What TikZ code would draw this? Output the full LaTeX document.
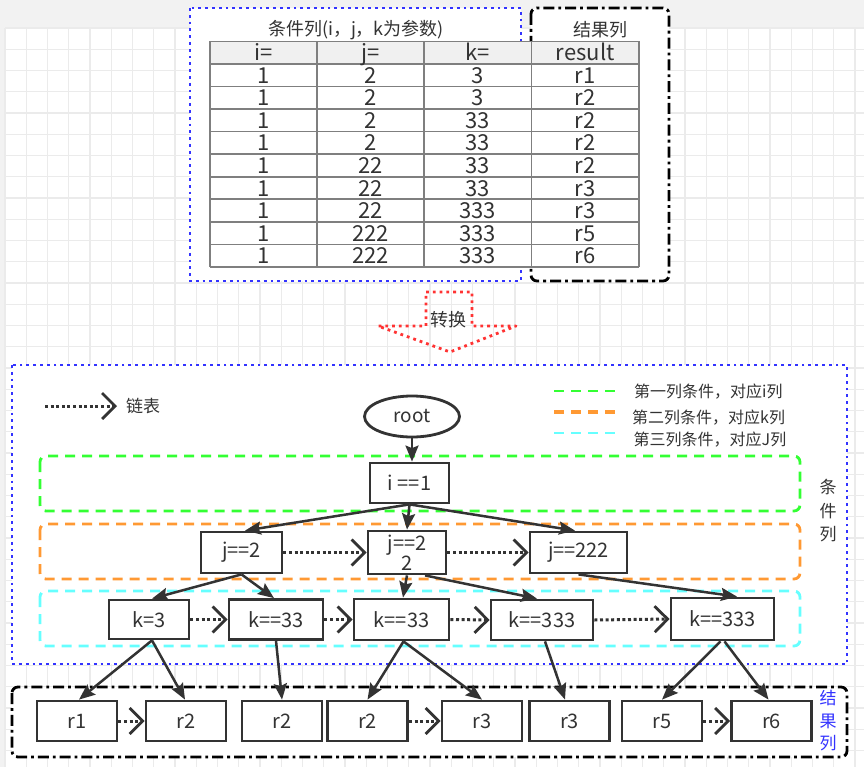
\documentclass[tikz,border=0pt]{standalone}
\usepackage{fontspec}
\setmainfont{Noto Sans CJK SC}
\usetikzlibrary{arrows.meta,shapes.geometric}
\definecolor{ink}{HTML}{333333}
\definecolor{gridc}{HTML}{EBEBEB}
\definecolor{bgc}{HTML}{F2F2F2}
\definecolor{blueb}{HTML}{3333FF}
\definecolor{gr}{HTML}{33FF33}
\definecolor{org}{HTML}{FF9933}
\definecolor{cya}{HTML}{66FFFF}
\definecolor{redd}{HTML}{FF3333}
\definecolor{tline}{HTML}{7F7F7F}
\definecolor{thead}{HTML}{F0F0F0}
\begin{document}
\begin{tikzpicture}[x=1pt,y=-1pt,
  box/.style={draw=ink, line width=2.8pt, fill=white, inner sep=0pt, font=\fontsize{20}{19}\selectfont, text=ink, align=center},
  tree/.style={draw=ink, line width=2.5pt, -{Stealth[length=16pt,width=13pt,inset=2.5pt]}},
  link/.style={draw=ink, line width=3pt, dash pattern=on 3pt off 2.6pt, -{Straight Barb[length=13pt,width=26pt,line width=2.8pt]}},
  grp/.style={line width=2.8pt, dash pattern=on 10pt off 7pt, rounded corners=6pt},
  dotblue/.style={draw=blueb, line width=2.8pt, dash pattern=on 2.8pt off 4pt, fill=white},
  dashdot/.style={draw=black, line width=2.8pt, dash pattern=on 11pt off 4pt on 2.8pt off 4pt, fill=white, rounded corners=6pt},
  cell/.style={font=\fontsize{22}{22}\selectfont, text=ink, inner sep=0pt, text height=16pt, text depth=0pt},
  lbl/.style={font=\fontsize{16}{16}\selectfont, text=ink, inner sep=0pt, anchor=west}
]
\useasboundingbox (0,0) rectangle (864,767);
% background and grid
\fill[bgc] (0,0) rectangle (864,767);
\fill[white] (5,28) rectangle (864,767);
\foreach \i in {0,...,40} {\draw[gridc, line width=1.3pt] ({5+21.25*\i},28) -- ({5+21.25*\i},767);}
\foreach \i in {0,...,34} {\draw[gridc, line width=1.3pt] (5,{28+21.25*\i}) -- (864,{28+21.25*\i});}

% ---------- top: table ----------
\draw[dotblue] (190,8) rectangle (521,281);
\draw[dashdot] (531,8) rectangle (669,281);
\node[font=\fontsize{18}{18}\selectfont, text=ink, inner sep=0pt] (ttl) at (356,30) {条件列(i，j，k为参数)};
\node[font=\fontsize{18}{18}\selectfont, text=ink, inner sep=0pt] (rttl) at (600,30) {结果列};
\fill[thead] (210,41.5) rectangle (639,64);
\fill[white] (210,64) rectangle (639,267);
\foreach \k in {0,...,9} {\draw[tline, line width=1.6pt] (210,{64+22.55*\k}) -- (639,{64+22.55*\k});}
\draw[tline, line width=1.6pt] (210,41.5) -- (639,41.5);
\foreach \xx in {210,317,424,531.5,639} {\draw[tline, line width=1.6pt] (\xx,41.5) -- (\xx,267);}
\node[cell] (h1) at (263.5,53) {i=};
\node[cell] (h2) at (370.5,53) {j=};
\node[cell] (h3) at (477.7,53) {k=};
\node[cell] (h4) at (585.2,53) {result};
\foreach [count=\r] \a/\b/\c/\d in {1/2/3/r1, 1/2/3/r2, 1/2/33/r2, 1/2/33/r2, 1/22/33/r2, 1/22/33/r3, 1/22/333/r3, 1/222/333/r5, 1/222/333/r6} {
  \pgfmathsetmacro{\yy}{64+22.55*(\r-1)+11.3}
  \node[cell] (c\r a) at (263.5,\yy) {\a};
  \node[cell] (c\r b) at (370.5,\yy) {\b};
  \node[cell] (c\r c) at (477.7,\yy) {\c};
  \node[cell] (c\r d) at (585.2,\yy) {\d};
}

% ---------- transform arrow ----------
\draw[redd, line width=2.8pt, dash pattern=on 2.8pt off 4pt, line join=round]
  (426,292) -- (472,292) -- (472,326) -- (516,326) -- (450,352) -- (378,326) -- (426,326) -- cycle;
\node[font=\fontsize{18}{18}\selectfont, text=ink, inner sep=0pt] (zh) at (448,320) {转换};

% ---------- middle ----------
\draw[dotblue] (12,365) rectangle (847,664);
% legend
\coordinate (lgA) at (45,406);
\coordinate (lgB) at (117,406);
\draw[link] (lgA) -- (lgB);
\node[font=\fontsize{17}{17}\selectfont, text=ink, inner sep=0pt, anchor=west] (lgT) at (126,406) {链表};
\draw[gr, line width=2.8pt, dash pattern=on 10pt off 7pt] (554,391) -- (621,391);
\draw[org, line width=3.4pt, dash pattern=on 10pt off 7pt] (554,412) -- (621,412);
\draw[cya, line width=2.8pt, dash pattern=on 10pt off 7pt] (554,433) -- (621,433);
\node[lbl] (lg1) at (634,392) {第一列条件，对应i列};
\node[lbl] (lg2) at (632,418) {第二列条件，对应k列};
\node[lbl] (lg3) at (633.5,440) {第三列条件，对应J列};
% group boxes
\draw[grp, draw=gr] (40,456) rectangle (800,511);
\draw[grp, draw=org] (40,524) rectangle (800,579);
\draw[grp, draw=cya] (40,591) rectangle (800,646);
\node[font=\fontsize{17}{23.5}\selectfont, text=ink, inner sep=0pt, align=center] (tjl) at (828,511) {条\\件\\列};
% nodes
\node[draw=ink, line width=2.8pt, fill=white, ellipse, minimum width=95pt, minimum height=41pt, inner sep=0pt, font=\fontsize{19}{19}\selectfont, text=ink] (root) at (412,416.5) {root};
\node[box, minimum width=79pt, minimum height=40pt] (i1) at (409.5,483) {i ==1};
\node[box, minimum width=81pt, minimum height=41pt] (j2) at (241.5,552.5) {j==2};
\node[box, minimum width=78pt, minimum height=43pt] (j22) at (407,552.5) {j==2\\2};
\node[box, minimum width=97pt, minimum height=41pt] (j222) at (578.5,552.5) {j==222};
\node[box, minimum width=80pt, minimum height=39pt] (k3) at (149,619.5) {k=3};
\node[box, minimum width=94pt, minimum height=40pt] (k33a) at (276,619.5) {k==33};
\node[box, minimum width=95pt, minimum height=41pt] (k33b) at (401.5,619.5) {k==33};
\node[box, minimum width=102pt, minimum height=40pt] (k333a) at (542,620) {k==333};
\node[box, minimum width=103pt, minimum height=42pt] (k333b) at (722.5,619) {k==333};
% tree edges
\draw[tree] (root.south) -- (root.south |- i1.north);
\draw[tree] (i1.south) -- ([xshift=3.5pt]j2.north);
\draw[tree] (i1.south) -- (j22.north);
\draw[tree] (i1.south) -- ([xshift=-3.5pt]j222.north);
\draw[tree] (j2.south) -- ([xshift=3pt]k3.north);
\draw[tree] (j2.south) -- ([xshift=-2pt]k33a.north);
\draw[tree] (j22.south) -- ([xshift=1.5pt]k33b.north);
\draw[tree] ([xshift=18pt]j22.south) -- ([xshift=-5pt]k333a.north);
\draw[tree] (j222.south) -- ([xshift=14.5pt]k333b.north);
% links
\draw[link] (j2.east) -- (j22.west);
\draw[link] (j22.east) -- (j222.west);
\draw[link] (k3.east) -- (k33a.west);
\draw[link] (k33a.east) -- (k33b.west);
\draw[link] (k33b.east) -- (k333a.west);
\draw[link] (k333a.east) -- (k333b.west);

% ---------- bottom ----------
\draw[dashdot] (12,687) rectangle (847,757);
\node[font=\fontsize{17}{22.5}\selectfont, text=blueb, inner sep=0pt, align=center] (jgl) at (828,721) {结\\果\\列};
\foreach \n/\xx/\t in {r1/77/r1, r2a/186/r2, r2b/282/r2, r2c/367.5/r2, r3a/482/r3, r3b/569.5/r3, r5/662/r5, r6/771.5/r6} {
  \node[box, minimum width=80pt, minimum height=40pt] (\n) at (\xx,721) {\t};
}
\draw[tree] ([xshift=3pt]k3.south) -- ([xshift=2pt]r1.north);
\draw[tree] ([xshift=3pt]k3.south) -- ([xshift=-1pt]r2a.north);
\draw[tree] (k33a.south) -- (r2b.north);
\draw[tree] ([xshift=2pt]k33b.south) -- (r2c.north);
\draw[tree] ([xshift=2pt]k33b.south) -- (r3a.north);
\draw[tree] ([xshift=3pt]k333a.south) -- ([xshift=-4.5pt]r3b.north);
\draw[tree] ([xshift=-2pt]k333b.south) -- (r5.north);
\draw[tree] ([xshift=2pt]k333b.south) -- ([xshift=-3pt]r6.north);
\draw[link] (r1.east) -- (r2a.west);
\draw[link] (r2c.east) -- (r3a.west);
\draw[link] (r5.east) -- (r6.west);
\end{tikzpicture}
\end{document}
